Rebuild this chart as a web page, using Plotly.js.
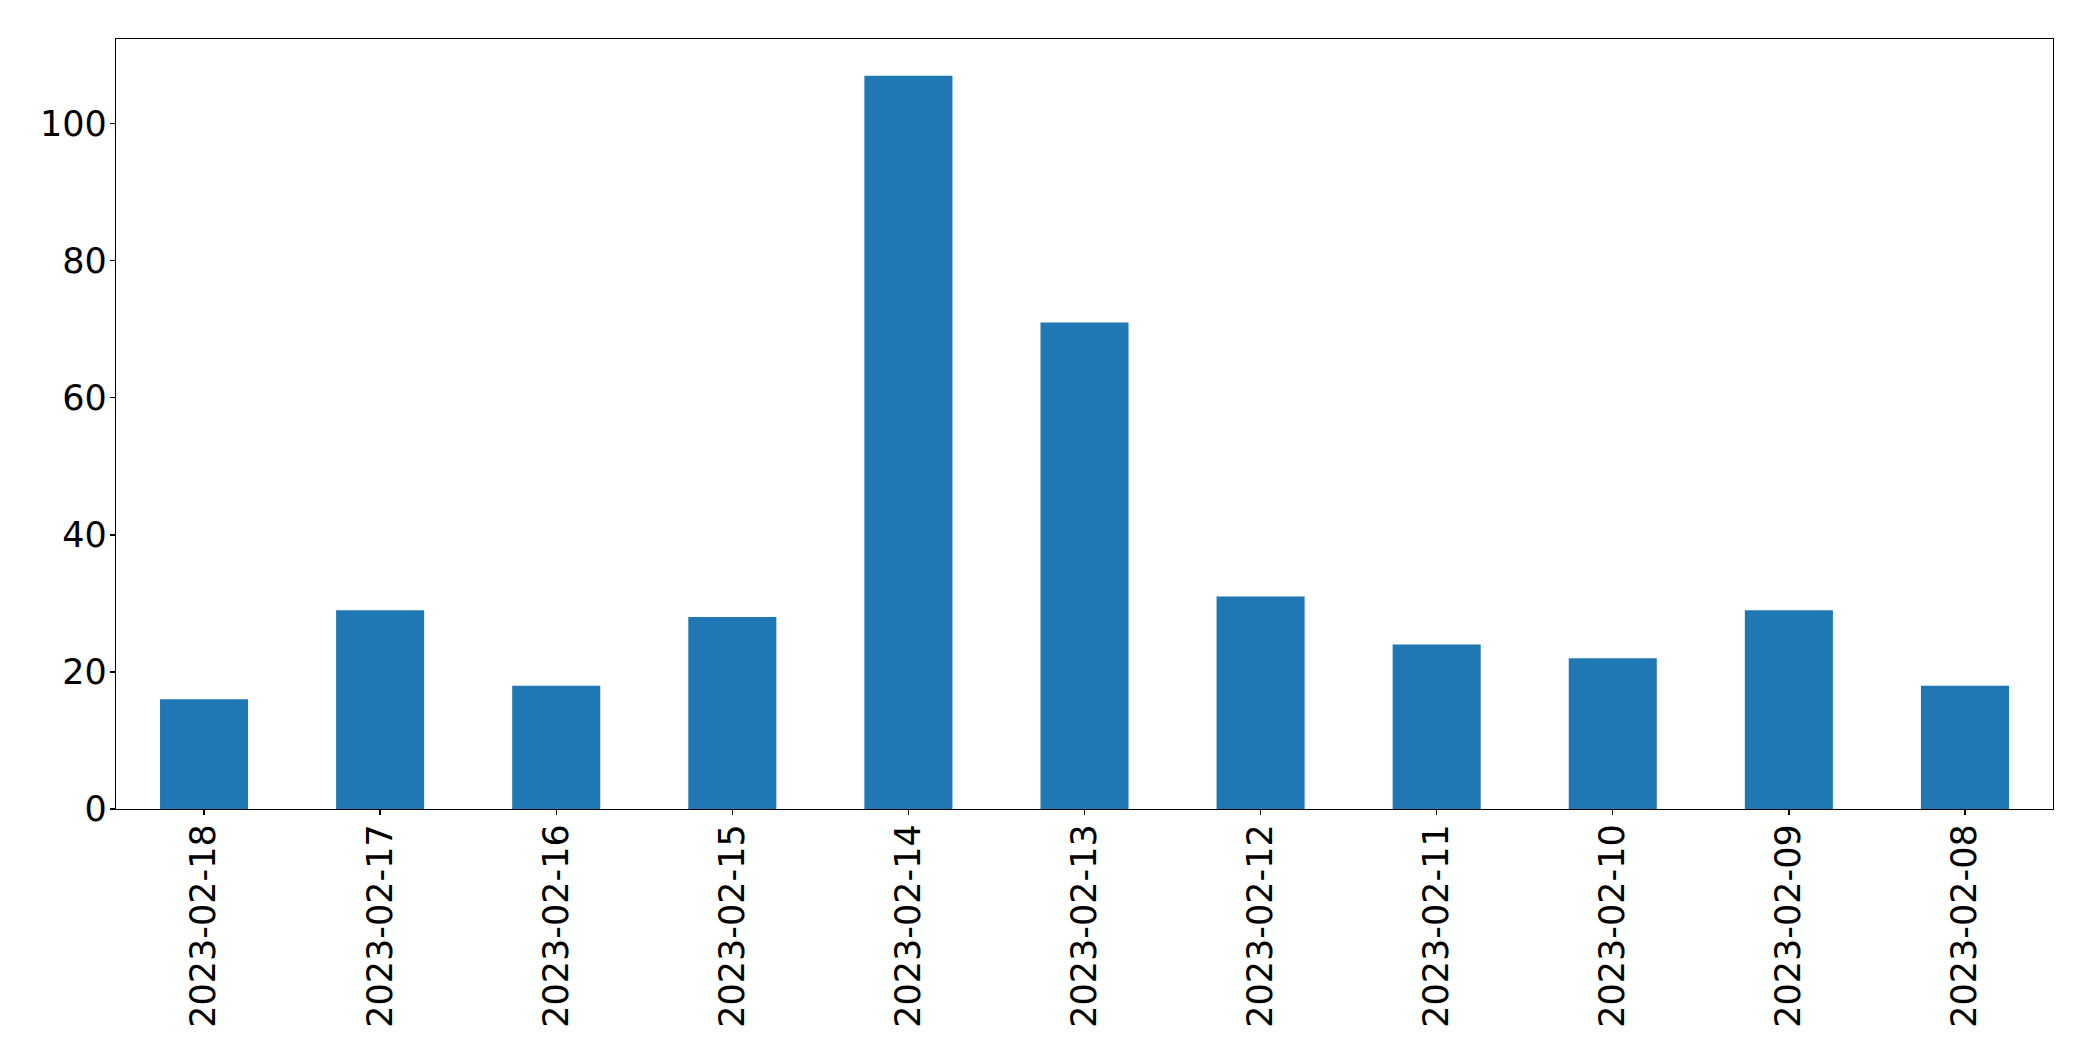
<!DOCTYPE html>
<html>
<head>
<meta charset="utf-8">
<script src="https://cdn.plot.ly/plotly-3.0.1.min.js"></script>
<style>html,body{margin:0;padding:0;background:#fff;}#chart{width:2093px;height:1061px;}</style>
</head>
<body>
<div id="chart"></div>
<script>
const dates = ["2023-02-18","2023-02-17","2023-02-16","2023-02-15","2023-02-14","2023-02-13","2023-02-12","2023-02-11","2023-02-10","2023-02-09","2023-02-08"];
const counts = [16, 29, 18, 28, 107, 71, 31, 24, 22, 29, 18];
const yTicks = [0, 20, 40, 60, 80, 100];

const trace = {
  type: 'bar',
  x: dates,
  y: counts,
  width: 0.5,
  marker: {color: '#1f77b4', line: {width: 0}},
  hoverinfo: 'x+y'
};

const layout = {
  width: 2093,
  height: 1061,
  margin: {l: 116, r: 40, t: 39, b: 252, pad: 0},
  paper_bgcolor: '#ffffff',
  plot_bgcolor: '#ffffff',
  showlegend: false,
  font: {family: 'DejaVu Sans', size: 35, color: '#000000'},
  xaxis: {
    type: 'category',
    range: [-0.5, 10.5],
    tickangle: -90,
    ticks: 'outside',
    ticklen: 5,
    tickwidth: 1.3,
    tickcolor: '#000',
    showline: true,
    linecolor: '#000',
    linewidth: 1.3,
    mirror: true,
    showgrid: false,
    zeroline: false,
    tickfont: {family: 'DejaVu Sans', size: 35, color: '#000'},
    ticklabelstandoff: -5
  },
  yaxis: {
    range: [0, 112.35],
    tickvals: yTicks,
    ticktext: yTicks.map(String),
    ticks: 'outside',
    ticklen: 5,
    tickwidth: 1.3,
    tickcolor: '#000',
    showline: true,
    linecolor: '#000',
    linewidth: 1.3,
    mirror: true,
    showgrid: false,
    zeroline: false,
    tickfont: {family: 'DejaVu Sans', size: 35, color: '#000'},
    ticklabelstandoff: -4
  }
};

Plotly.newPlot('chart', [trace], layout, {staticPlot: true, displayModeBar: false});
</script>
</body>
</html>
